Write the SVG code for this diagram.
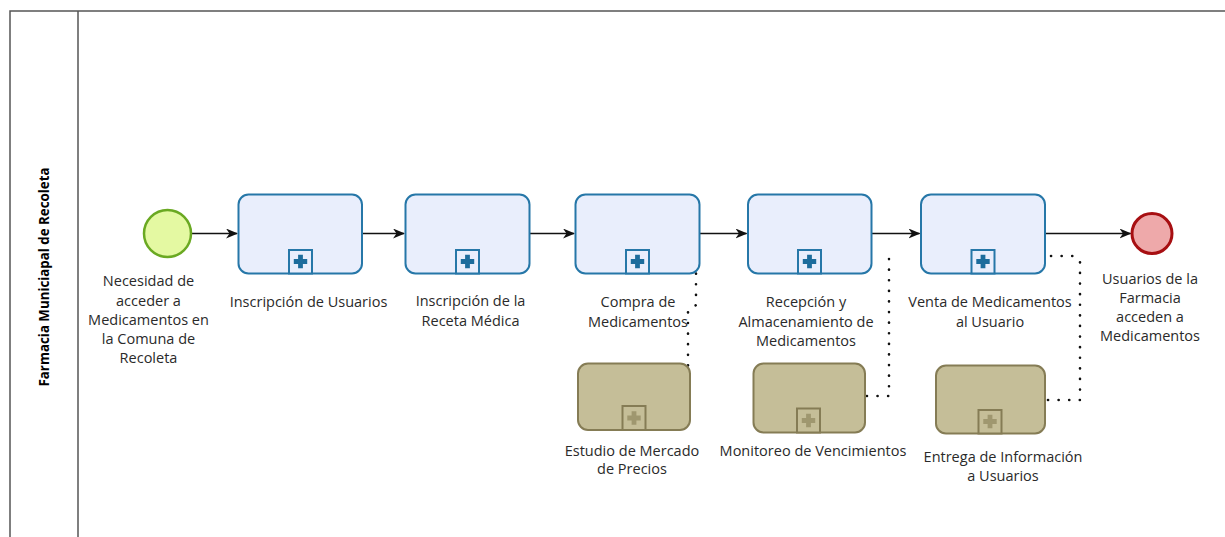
<svg xmlns="http://www.w3.org/2000/svg" width="1225" height="537" viewBox="0 0 1225 537">
<style>
text{font-family:"Open Sans","Liberation Sans",sans-serif;font-size:14.5px;fill:#2a2a2a;text-anchor:middle}
.lane{font-weight:bold;font-size:13.3px;fill:#000}
.task{fill:#e9eefc;stroke:#2677a8;stroke-width:2}
.tmk{fill:#e9eefc;stroke:#2677a8;stroke-width:2}
.tpl{fill:#1d6c9c}
.gtask{fill:#c5be98;stroke:#857c55;stroke-width:2}
.gmk{fill:#c5be98;stroke:#857c55;stroke-width:2}
.gpl{fill:#9f976f}
.flow{fill:none;stroke:#111;stroke-width:1.3}
.assoc{fill:none;stroke:#111;stroke-width:2.6;stroke-dasharray:0.1 10.5;stroke-linecap:round}
.pool{fill:none;stroke:#555;stroke-width:1.5}
</style>
<defs>
<marker id="arr" viewBox="0 0 12 10" refX="11" refY="5" markerWidth="12" markerHeight="10" markerUnits="userSpaceOnUse" orient="auto">
<path d="M0,0 L12,5 L0,10 L3.5,5 z" fill="#111"/>
</marker>
<symbol id="plus" viewBox="0 0 24 24"><path d="M9.5,5 h5 v4.5 h4.5 v5 h-4.5 v4.5 h-5 v-4.5 h-4.5 v-5 h4.5 z"/></symbol>
</defs>
<rect width="1225" height="537" fill="#fff"/>
<g id="pool">
<path class="pool" d="M1225,11 H10 V537 M78,11 V537"/>
<text class="lane" transform="translate(49,277) rotate(-90)">Farmacia Municiapal de Recoleta</text>
</g>
<g id="connectors">
<path class="flow" d="M192,233.5 H237" marker-end="url(#arr)"/>
<path class="flow" d="M362,233.5 H404" marker-end="url(#arr)"/>
<path class="flow" d="M530,233.5 H574" marker-end="url(#arr)"/>
<path class="flow" d="M700,233.5 H746.5" marker-end="url(#arr)"/>
<path class="flow" d="M872,233.5 H919.5" marker-end="url(#arr)"/>
<path class="flow" d="M1046,233.5 H1130.5" marker-end="url(#arr)"/>
<path class="assoc" d="M696,263 V305 L688,312 V395"/>
<path class="assoc" d="M889,259 V396 H866"/>
<path class="assoc" d="M1051,256 H1074 L1080,262 V400 H1046"/>
</g>
<g id="start">
<circle cx="167.5" cy="233.5" r="23.5" fill="#e4f9a2" stroke="#6aa922" stroke-width="2.5"/>
<text x="148.5" y="286">Necesidad de</text>
<text x="148.5" y="305.5">acceder a</text>
<text x="148.5" y="325">Medicamentos en</text>
<text x="148.5" y="344">la Comuna de</text>
<text x="148.5" y="363">Recoleta</text>
</g>
<g id="t1">
<rect class="task" x="238.5" y="194.5" width="123.5" height="79" rx="10"/>
<rect class="tmk" x="289" y="250" width="23" height="23.5"/>
<use href="#plus" class="tpl" x="289" y="250" width="23" height="23"/>
<text x="308.5" y="307">Inscripción de Usuarios</text>
</g>
<g id="t2">
<rect class="task" x="405.5" y="194.5" width="124" height="79" rx="10"/>
<rect class="tmk" x="456" y="250" width="23" height="23.5"/>
<use href="#plus" class="tpl" x="456" y="250" width="23" height="23"/>
<text x="470.5" y="306">Inscripción de la</text>
<text x="470.5" y="325.5">Receta Médica</text>
</g>
<g id="t3">
<rect class="task" x="575.5" y="194.5" width="124" height="79" rx="10"/>
<rect class="tmk" x="626" y="250" width="23" height="23.5"/>
<use href="#plus" class="tpl" x="626" y="250" width="23" height="23"/>
<text x="638" y="307">Compra de</text>
<text x="638" y="327">Medicamentos</text>
</g>
<g id="t4">
<rect class="task" x="748" y="194.5" width="123.5" height="79" rx="10"/>
<rect class="tmk" x="798" y="250" width="23" height="23.5"/>
<use href="#plus" class="tpl" x="798" y="250" width="23" height="23"/>
<text x="806" y="307">Recepción y</text>
<text x="806" y="326.5">Almacenamiento de</text>
<text x="806" y="345.5">Medicamentos</text>
</g>
<g id="t5">
<rect class="task" x="921" y="194.5" width="124" height="79" rx="10"/>
<rect class="tmk" x="971.5" y="250" width="23" height="23.5"/>
<use href="#plus" class="tpl" x="971.5" y="250" width="23" height="23"/>
<text x="990" y="307">Venta de Medicamentos</text>
<text x="990" y="327">al Usuario</text>
</g>
<g id="end">
<circle cx="1152" cy="233.5" r="20" fill="#eea9aa" stroke="#a70f12" stroke-width="3"/>
<text x="1150" y="284">Usuarios de la</text>
<text x="1150" y="303">Farmacia</text>
<text x="1150" y="322">acceden a</text>
<text x="1150" y="341">Medicamentos</text>
</g>
<g id="g1">
<rect class="gtask" x="578" y="363.5" width="112" height="66.5" rx="10"/>
<rect class="gmk" x="622.5" y="406" width="23" height="24"/>
<use href="#plus" class="gpl" x="622.5" y="406.5" width="23" height="23"/>
<text x="632" y="456">Estudio de Mercado</text>
<text x="632" y="474">de Precios</text>
</g>
<g id="g2">
<rect class="gtask" x="753.5" y="363.5" width="111.5" height="69" rx="10"/>
<rect class="gmk" x="797" y="408.5" width="23" height="24"/>
<use href="#plus" class="gpl" x="797" y="409" width="23" height="23"/>
<text x="813" y="456">Monitoreo de Vencimientos</text>
</g>
<g id="g3">
<rect class="gtask" x="936" y="365.5" width="109" height="68" rx="10"/>
<rect class="gmk" x="978.5" y="410" width="23" height="23.5"/>
<use href="#plus" class="gpl" x="978.5" y="410" width="23" height="23"/>
<text x="1003" y="462">Entrega de Información</text>
<text x="1003" y="481">a Usuarios</text>
</g>
</svg>
